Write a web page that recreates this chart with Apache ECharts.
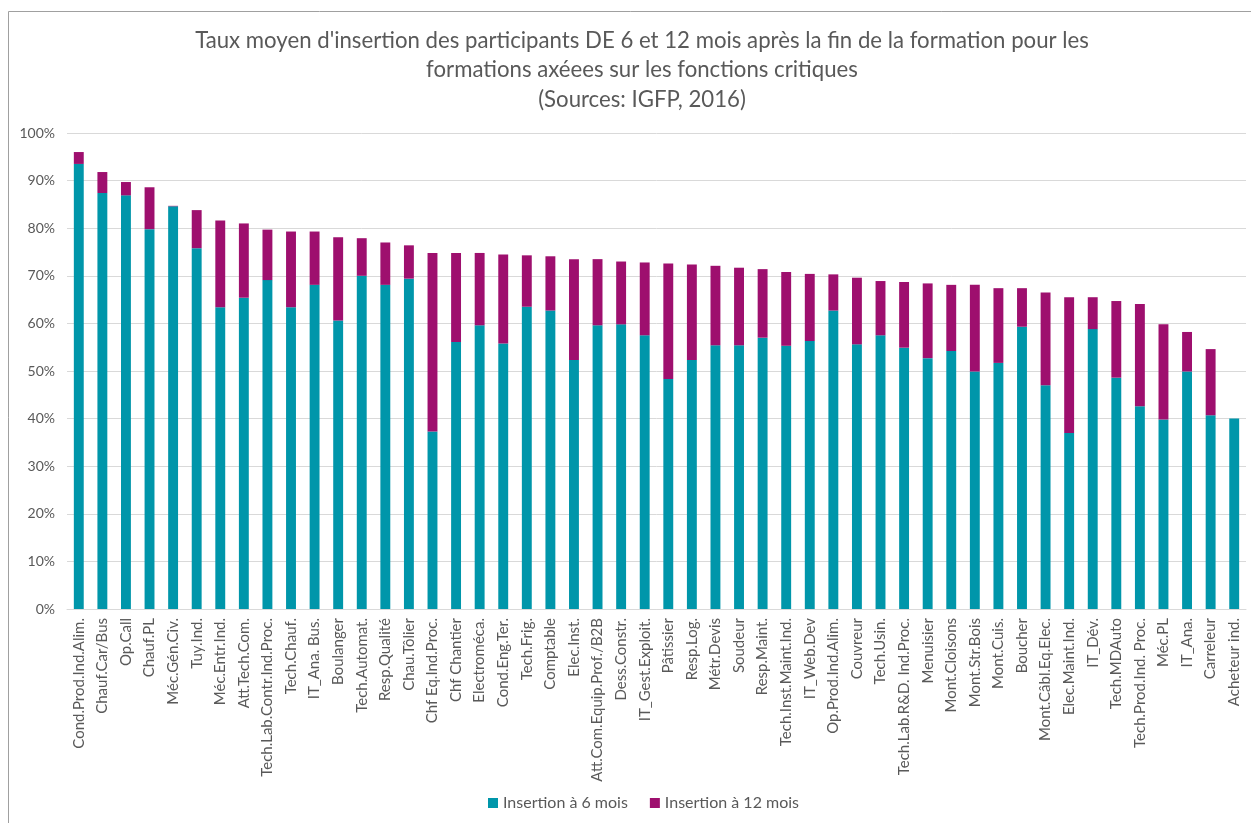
<!DOCTYPE html>
<html>
<head>
    <meta charset="utf-8">
    <script src="https://cdn.jsdelivr.net/npm/echarts@6/dist/echarts.min.js"></script>
    <style>
        html, body { margin: 0; padding: 0; background: #fff; }
        #chart { width: 1251px; height: 823px; }
    </style>
</head>
<body>
<div id="chart"></div>
<script type="text/javascript">
    // catégories (formations)
    var categories = [
        'Cond.Prod.Ind.Alim.', 'Chauf.Car/Bus', 'Op.Call', 'Chauf.PL', 'Méc.Gén.Civ.',
        'Tuy.Ind.', 'Méc.Entr.Ind.', 'Att.Tech.Com.', 'Tech.Lab.Contr.Ind.Proc.', 'Tech.Chauf.',
        'IT_Ana. Bus.', 'Boulanger', 'Tech.Automat.', 'Resp.Qualité', 'Chau.Tôlier',
        'Chf Eq.Ind.Proc.', 'Chf Chantier', 'Electroméca.', 'Cond.Eng.Ter.', 'Tech.Frig.',
        'Comptable', 'Elec.Inst.', 'Att.Com.Equip.Prof./B2B', 'Dess.Constr.', 'IT_Gest.Exploit.',
        'Pâtissier', 'Resp.Log.', 'Métr.Devis', 'Soudeur', 'Resp.Maint.',
        'Tech.Inst.Maint.Ind.', 'IT_Web.Dev', 'Op.Prod.Ind.Alim.', 'Couvreur', 'Tech.Usin.',
        'Tech.Lab.R&D. Ind.Proc.', 'Menuisier', 'Mont.Cloisons', 'Mont.Str.Bois', 'Mont.Cuis.',
        'Boucher', 'Mont.Câbl.Eq.Elec.', 'Elec.Maint.Ind.', 'IT_Dév.', 'Tech.MDAuto',
        'Tech.Prod.Ind. Proc.', 'Méc.PL', 'IT_Ana.', 'Carreleur', 'Acheteur ind.'
    ];
    // taux d'insertion à 6 mois (%)
    var insertion6 = [
        93.5, 87.4, 86.9, 79.8, 84.6,
        75.8, 63.4, 65.4, 69.1, 63.4,
        68.1, 60.6, 70.0, 68.1, 69.4,
        37.3, 56.1, 59.6, 55.8, 63.5,
        62.7, 52.3, 59.6, 59.8, 57.5,
        48.3, 52.3, 55.4, 55.4, 57.0,
        55.3, 56.3, 62.7, 55.6, 57.5,
        54.9, 52.7, 54.2, 49.9, 51.7,
        59.3, 47.0, 37.0, 58.8, 48.6,
        42.6, 39.8, 49.9, 40.7, 40.0
    ];
    // taux d'insertion à 12 mois (%)
    var insertion12 = [
        96.0, 91.8, 89.7, 88.6, 84.7,
        83.8, 81.6, 81.0, 79.7, 79.3,
        79.3, 78.1, 77.9, 77.0, 76.4,
        74.8, 74.8, 74.8, 74.5, 74.3,
        74.1, 73.5, 73.5, 73.0, 72.8,
        72.6, 72.4, 72.1, 71.7, 71.4,
        70.8, 70.4, 70.3, 69.6, 68.9,
        68.7, 68.4, 68.1, 68.1, 67.4,
        67.4, 66.5, 65.5, 65.5, 64.7,
        64.1, 59.8, 58.2, 54.6, 40.0
    ];
    var yTicks = [0, 10, 20, 30, 40, 50, 60, 70, 80, 90, 100];

    // la partie violette = écart entre 12 et 6 mois (empilée)
    var gain12 = insertion12.map(function (v, i) {
        return Math.max(0, +(v - insertion6[i]).toFixed(1));
    });

    var txtColor = '#595959';
    var fontName = 'Lato, "Open Sans", sans-serif';

    var myChart = echarts.init(document.getElementById('chart'));
    myChart.setOption({
        backgroundColor: '#fff',
        animation: false,
        title: {
            text: "Taux moyen d'insertion des participants DE 6 et 12 mois après la fin de la formation pour les\nformations axéees sur les fonctions critiques\n(Sources: IGFP, 2016)",
            left: 637,
            top: 21,
            textAlign: 'center',
            textStyle: {
                color: txtColor,
                fontFamily: fontName,
                fontSize: 22.2,
                fontWeight: 'normal',
                lineHeight: 29.5,
                align: 'center'
            }
        },
        legend: {
            bottom: 7,
            left: 483,
            itemWidth: 10,
            itemHeight: 10,
            itemGap: 22,
            icon: 'rect',
            textStyle: { color: txtColor, fontFamily: fontName, fontSize: 16 },
            data: ['Insertion à 6 mois', 'Insertion à 12 mois']
        },
        graphic: [{
            type: 'rect',
            shape: { x: 8.5, y: 11.5, width: 1300, height: 900 },
            style: { fill: 'none', stroke: '#a0a0a0', lineWidth: 1 },
            silent: true
        }],
        grid: { left: 67, right: 5, top: 133, bottom: 214 },
        xAxis: {
            type: 'category',
            data: categories,
            axisTick: { show: false },
            axisLine: { lineStyle: { color: '#d9d9d9', width: 1 } },
            axisLabel: {
                rotate: 90,
                interval: 0,
                margin: 9,
                color: txtColor,
                fontFamily: fontName,
                fontSize: 15
            }
        },
        yAxis: {
            type: 'value',
            min: yTicks[0],
            max: yTicks[yTicks.length - 1],
            interval: 10,
            axisLine: { show: false },
            axisTick: { show: false },
            splitLine: { lineStyle: { color: '#d9d9d9', width: 1 } },
            axisLabel: {
                color: txtColor,
                fontFamily: fontName,
                fontSize: 14,
                margin: 12,
                formatter: '{value}%'
            }
        },
        series: [{
            name: 'Insertion à 6 mois',
            type: 'bar',
            stack: 'insertion',
            barWidth: '42%',
            itemStyle: { color: '#0096aa' },
            data: insertion6
        }, {
            name: 'Insertion à 12 mois',
            type: 'bar',
            stack: 'insertion',
            barWidth: '42%',
            itemStyle: { color: '#9e0f6e' },
            data: gain12
        }]
    });
</script>
</body>
</html>
